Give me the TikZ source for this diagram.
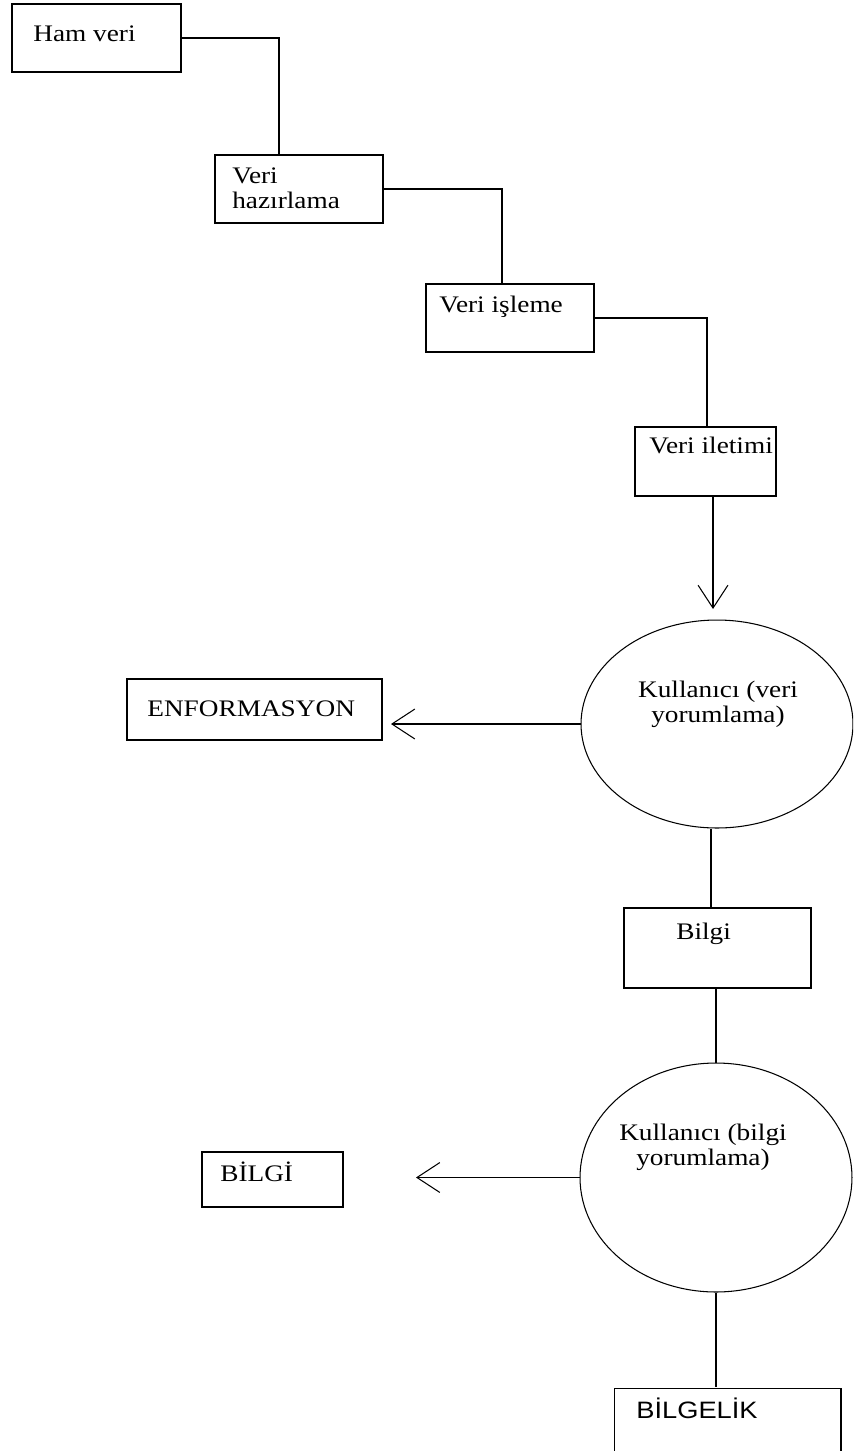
\documentclass[tikz,border=0pt]{standalone}
\usepackage{fontspec}
\setmainfont{Liberation Serif}[FakeStretch=1.15]
\newfontfamily\arialfont{Liberation Sans}[FakeStretch=1.15]
\usetikzlibrary{arrows.meta, shapes.geometric}
\tikzset{
  box/.style={draw, rectangle, inner sep=0pt, line width=0.6pt},
  user/.style={draw, ellipse, inner sep=0pt, line width=0.6pt},
  txt/.style={anchor=base west, inner sep=0pt, align=left, font=\fontsize{13.5pt}{14pt}\selectfont},
  ctxt/.style={anchor=base, inner sep=0pt, align=center, font=\fontsize{13.5pt}{14pt}\selectfont},
  link/.style={line width=0.6pt},
  arr/.style={line width=0.6pt, -{Straight Barb[length=13pt, width=17pt]}}
}
\begin{document}
\begin{tikzpicture}[x=0.02cm, y=-0.02cm]
  \useasboundingbox (0,0) rectangle (853,1451);
  \clip (0,0) rectangle (853,1451);

  % veri akisi
  \node[box, minimum width=3.38cm, minimum height=1.36cm] (hamveri) at (96.5,38) {};
  \node[box, minimum width=3.36cm, minimum height=1.36cm] (hazirlama) at (299,189) {};
  \node[box, minimum width=3.36cm, minimum height=1.36cm] (isleme) at (510,318) {};
  \node[box, minimum width=2.82cm, minimum height=1.38cm] (iletimi) at (705.5,461.5) {};
  \node[txt] (t-hamveri) at (33,41) {Ham veri};
  \node[txt] (t-hazirlama) at (232,208) {Veri\\hazırlama};
  \node[txt] (t-isleme) at (439,312) {Veri işleme};
  \node[txt] (t-iletimi) at (649,453) {Veri iletimi};

  \draw[link] (hamveri.east) -| (279,0 |- hazirlama.north);
  \draw[link] (hazirlama.east) -| (502,0 |- isleme.north);
  \draw[link] (isleme.east) -| (707,0 |- iletimi.north);

  % kullanici
  \node[user, minimum width=5.44cm, minimum height=4.16cm] (user1) at (717,724) {};
  \node[ctxt] (t-user1) at (718,722) {Kullanıcı (veri\\yorumlama)};
  \node[box, minimum width=5.10cm, minimum height=1.22cm] (enf) at (254.5,709.5) {};
  \node[txt] (t-enf) at (147,716) {ENFORMASYON};
  \coordinate (tip1) at (713,609);
  \coordinate (tip2) at (391,724);
  \draw[arr] (tip1 |- iletimi.south) -- (tip1);
  \draw[arr] (user1.west) -- (tip2);

  \node[box, minimum width=3.74cm, minimum height=1.60cm] (bilgi) at (717.5,948) {};
  \node[txt] (t-bilgi) at (676,939) {Bilgi};
  \draw[link] (711,0 |- user1.south) -- (711,0 |- bilgi.north);

  \node[user, minimum width=5.44cm, minimum height=4.58cm] (user2) at (716,1177.5) {};
  \node[ctxt] (t-user2) at (703,1165) {Kullanıcı (bilgi\\yorumlama)};
  \node[box, minimum width=2.82cm, minimum height=1.10cm] (bilgibox) at (272.5,1179.5) {};
  \node[txt] (t-bilgibox) at (220,1181) {BİLGİ};
  \coordinate (tip3) at (416,1177.5);
  \draw[link] (user2.north |- bilgi.south) -- (user2.north);
  \draw[arr] (user2.west) -- (tip3);

  \node[box, minimum width=4.54cm, minimum height=1.64cm] (bilgelik) at (727.5,1429) {};
  \node[txt, font=\arialfont\fontsize{13.5pt}{14pt}\selectfont] (t-bilgelik) at (636,1418) {BİLGELİK};
  \draw[link] (user2.south) -- (user2.south |- bilgelik.north);
\end{tikzpicture}
\end{document}
